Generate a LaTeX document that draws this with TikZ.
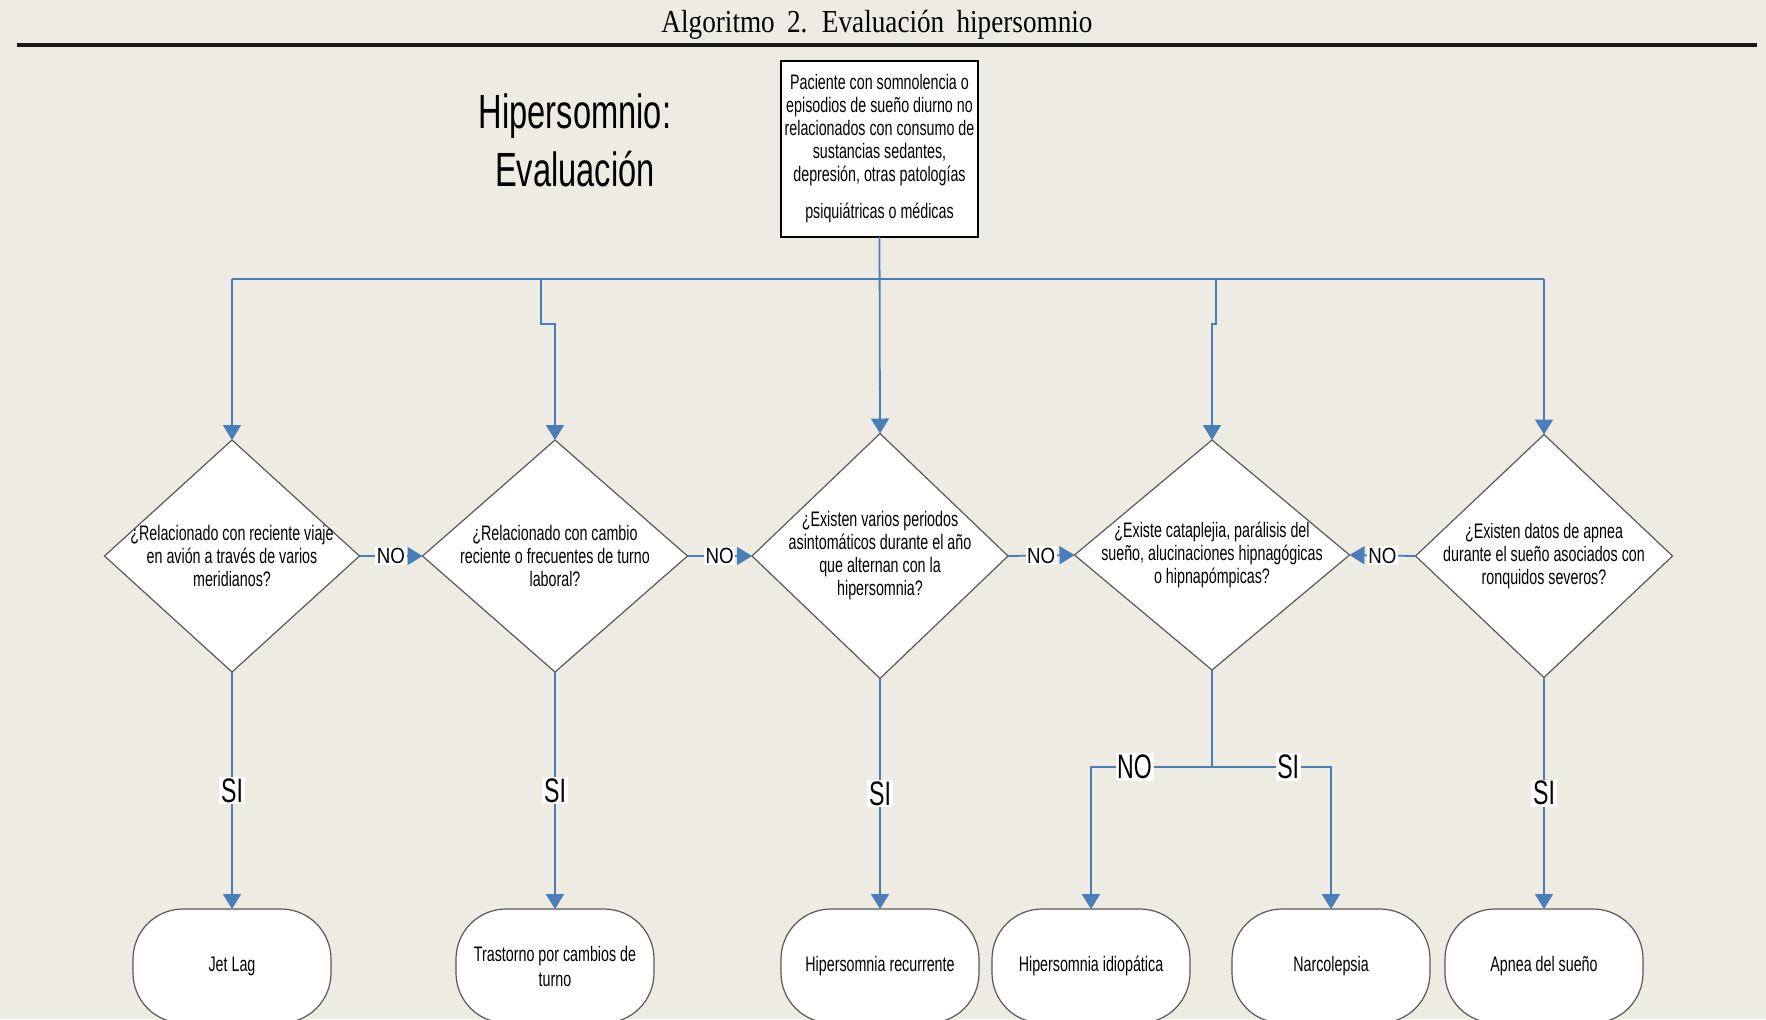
\documentclass[tikz,border=0pt]{standalone}
\usepackage{fontspec}
\usepackage{xcolor}
\usetikzlibrary{shapes.geometric}
\usetikzlibrary{arrows.meta}

\setmainfont{Liberation Serif}
\newfontfamily\narrowsans[FakeStretch=0.68]{Liberation Sans}
\newfontfamily\labelsans[FakeStretch=0.85]{Liberation Sans}
\newfontfamily\titleserif[FakeStretch=0.85,WordSpace=1.8]{Liberation Serif}

\definecolor{bgbeige}{HTML}{EDEBE2}
\definecolor{flowblue}{HTML}{4A7EBB}
\definecolor{edgegray}{HTML}{595959}

\begin{document}
\begin{tikzpicture}[x=0.5pt, y=-0.5pt,
  decision/.style={diamond, draw=edgegray, fill=white, line width=0.6pt, inner sep=0pt, outer sep=0pt},
  qtext/.style={font=\narrowsans\fontsize{10.5}{11.5}\selectfont, align=center, inner sep=0pt},
  startbox/.style={draw=black, fill=white, line width=1pt, minimum width=98.5pt, minimum height=88pt,
    inner sep=0pt, outer sep=0pt, align=center, font=\narrowsans\fontsize{10.5}{11.5}\selectfont},
  terminal/.style={draw=edgegray, fill=white, line width=0.6pt, rounded corners=25pt, minimum width=99pt,
    minimum height=57pt, inner sep=0pt, outer sep=0pt, align=center, font=\narrowsans\fontsize{10.5}{12.5}\selectfont},
  link/.style={draw=flowblue, line width=0.9pt},
  flow/.style={link, -{Triangle[length=7.5pt,width=9pt]}},
  nolab/.style={fill=white, inner sep=0.8pt, font=\labelsans\fontsize{11}{11}\selectfont},
  silab/.style={fill=white, inner sep=0.8pt, font=\narrowsans\fontsize{17}{17}\selectfont}]

\useasboundingbox (0,0) rectangle (1766,1019);
\fill [bgbeige] (0,0) rectangle (1766,1019);

% Title
\node [font=\titleserif\fontsize{16}{16}\selectfont] (title) at (877,25) {Algoritmo 2. Evaluación hipersomnio};
\draw [line width=2.2pt, black!90] (17,45) -- (1757,45);

% Heading
\node [align=center, font=\narrowsans\fontsize{24}{29}\selectfont] (heading) at (575,140) {Hipersomnio:\\Evaluación};

% Start
\node [startbox] (start) at (879.5,149) {Paciente con somnolencia o\\episodios de sueño diurno no\\relacionados con consumo de\\sustancias sedantes,\\depresión, otras patologías\\[7pt]psiquiátricas o médicas};

% Decisions
\node [decision, minimum width=127.5pt, minimum height=116pt] (d1) at (232,556) {};
\node [decision, minimum width=132.5pt, minimum height=116pt] (d2) at (555,556) {};
\node [decision, minimum width=128pt, minimum height=122.5pt] (d3) at (880,556) {};
\node [decision, minimum width=137.5pt, minimum height=115pt] (d4) at (1212,555) {};
\node [decision, minimum width=128.5pt, minimum height=121.5pt] (d5) at (1544,556) {};

\node [qtext] (d1t) at (d1) {¿Relacionado con reciente viaje\\en avión a través de varios\\meridianos?};
\node [qtext] (d2t) at (d2) {¿Relacionado con cambio\\reciente o frecuentes de turno\\laboral?};
\node [qtext] (d3t) at (d3) {¿Existen varios periodos\\asintomáticos durante el año\\que alternan con la\\hipersomnia?};
\node [qtext] (d4t) at (d4) {¿Existe cataplejia, parálisis del\\sueño, alucinaciones hipnagógicas\\o hipnapómpicas?};
\node [qtext] (d5t) at (d5) {¿Existen datos de apnea\\durante el sueño asociados con\\ronquidos severos?};

% Outcomes
\node [terminal] (t1) at (232,966) {Jet Lag};
\node [terminal] (t2) at (555,966) {Trastorno por cambios de\\turno};
\node [terminal] (t3) at (880,966) {Hipersomnia recurrente};
\node [terminal] (t4) at (1091,966) {Hipersomnia idiopática};
\node [terminal] (t5) at (1331,966) {Narcolepsia};
\node [terminal] (t6) at (1544,966) {Apnea del sueño};

% Distribution line
\coordinate (bus1) at (232,279);
\coordinate (bus5) at (1544,279);
\coordinate (j2) at (541,279);
\coordinate (k2) at (541,324);
\coordinate (j4) at (1216,279);
\coordinate (k4) at (1216,324);
\draw [link] (bus1) -- (bus5);
\draw [flow] (start.south) -- (d3.north);
\draw [flow] (bus1) -- (d1.north);
\draw [flow] (j2) -- (k2) -| (d2.north);
\draw [flow] (j4) -- (k4) -| (d4.north);
\draw [flow] (bus5) -- (d5.north);

% NO branches
\draw [flow] (d1.east) -- node [nolab] {NO} (d2.west);
\draw [flow] (d2.east) -- node [nolab] {NO} (d3.west);
\draw [flow] (d3.east) -- node [nolab] {NO} (d4.west);
\draw [flow] (d5.west) -- node [nolab] {NO} (d4.east);

% SI branches
\draw [flow] (d1.south) -- node [silab] {SI} (t1.north);
\draw [flow] (d2.south) -- node [silab] {SI} (t2.north);
\draw [flow] (d3.south) -- node [silab] {SI} (t3.north);
\draw [flow] (d5.south) -- node [silab] {SI} (t6.north);

% Split under d4
\coordinate (s4) at (1212,767);
\draw [link] (d4.south) -- (s4);
\draw [flow] (s4) -| node [silab, pos=0.32] {NO} (t4.north);
\draw [flow] (s4) -| node [silab, pos=0.32] {SI} (t5.north);

\end{tikzpicture}
\end{document}
